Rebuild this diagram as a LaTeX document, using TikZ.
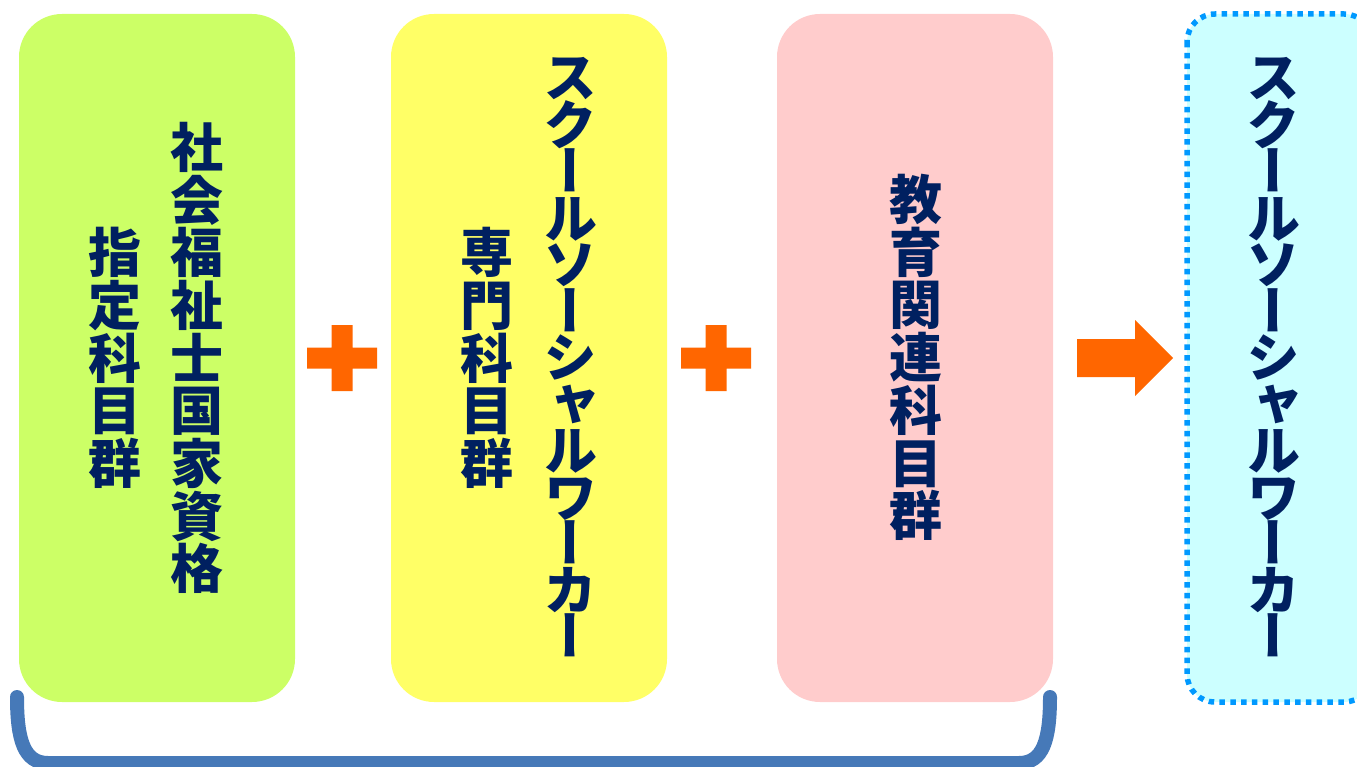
\documentclass[tikz,border=0pt]{standalone}
\usepackage{fontspec}
\newfontfamily\jpfont{Noto Sans CJK JP}
\newfontfamily\jpvfont{Noto Sans CJK JP}[RawFeature=+vert]
\definecolor{navytext}{HTML}{002060}
\definecolor{lime}{HTML}{CCFF66}
\definecolor{lightyellow}{HTML}{FFFF66}
\definecolor{pinkish}{HTML}{FFCCCC}
\definecolor{lightcyan}{HTML}{CCFFFF}
\definecolor{dotblue}{HTML}{0099FF}
\definecolor{bracketblue}{HTML}{4679B8}
\definecolor{orangesign}{HTML}{FF6600}
\tikzset{
  boxshape/.style={fill=#1, rounded corners=43pt},
  kanjitext/.style={text=navytext, align=center, inner sep=0pt,
    font=\jpfont\bfseries\fontsize{53}{52.7}\selectfont},
  kanatext/.style={text=navytext, align=center, inner sep=0pt,
    font=\jpvfont\bfseries\fontsize{54}{46.5}\selectfont},
  signfill/.style={fill=orangesign},
}
\begin{document}
\begin{tikzpicture}[x=1pt,y=-1pt]
\useasboundingbox (0,0) rectangle (1357,767);
\clip (0,0) rectangle (1357,767);
% boxes
\path[boxshape=lime] (19,14) rectangle (295,702);
\path[boxshape=lightyellow] (391,14) rectangle (667,702);
\path[boxshape=pinkish] (777,14) rectangle (1053,702);
\draw[fill=lightcyan, draw=dotblue, line width=5.5pt, dash pattern=on 5.5pt off 5.3pt, rounded corners=28pt] (1187,14) rectangle (1372,702);
% texts
\node[kanjitext] (t1a) at (197,358) {社\\会\\福\\祉\\士\\国\\家\\資\\格};
\node[kanjitext] (t1b) at (115,358) {指\\定\\科\\目\\群};
\node[kanatext] (t2a) at (570,357) {ス\\ク\\ー\\ル\\ソ\\ー\\シ\\ャ\\ル\\ワ\\ー\\カ\\ー};
\node[kanjitext] (t2b) at (487,358) {専\\門\\科\\目\\群};
\node[kanjitext] (t3) at (915.5,357.5) {教\\育\\関\\連\\科\\目\\群};
\node[kanatext] (t4) at (1273,357) {ス\\ク\\ー\\ル\\ソ\\ー\\シ\\ャ\\ル\\ワ\\ー\\カ\\ー};
% plus signs
\path[signfill] (331.5,325) rectangle (352.5,391) (307,347.5) rectangle (377,368.5);
\path[signfill] (705.5,325) rectangle (726.5,391) (681,347.5) rectangle (751,368.5);
% arrow
\path[signfill] (1077,339) -- (1135,339) -- (1135,320) -- (1173,358) -- (1135,396) -- (1135,377) -- (1077,377) -- cycle;
% bracket
\coordinate (bl) at (17,697);
\coordinate (br) at (1050,697);
\draw[bracketblue, line width=14pt, line cap=round, line join=round]
  (bl) .. controls (17,740) and (24,763) .. (48,763) -- (1019,763)
  .. controls (1043,763) and (1050,740) .. (br);
\end{tikzpicture}
\end{document}
